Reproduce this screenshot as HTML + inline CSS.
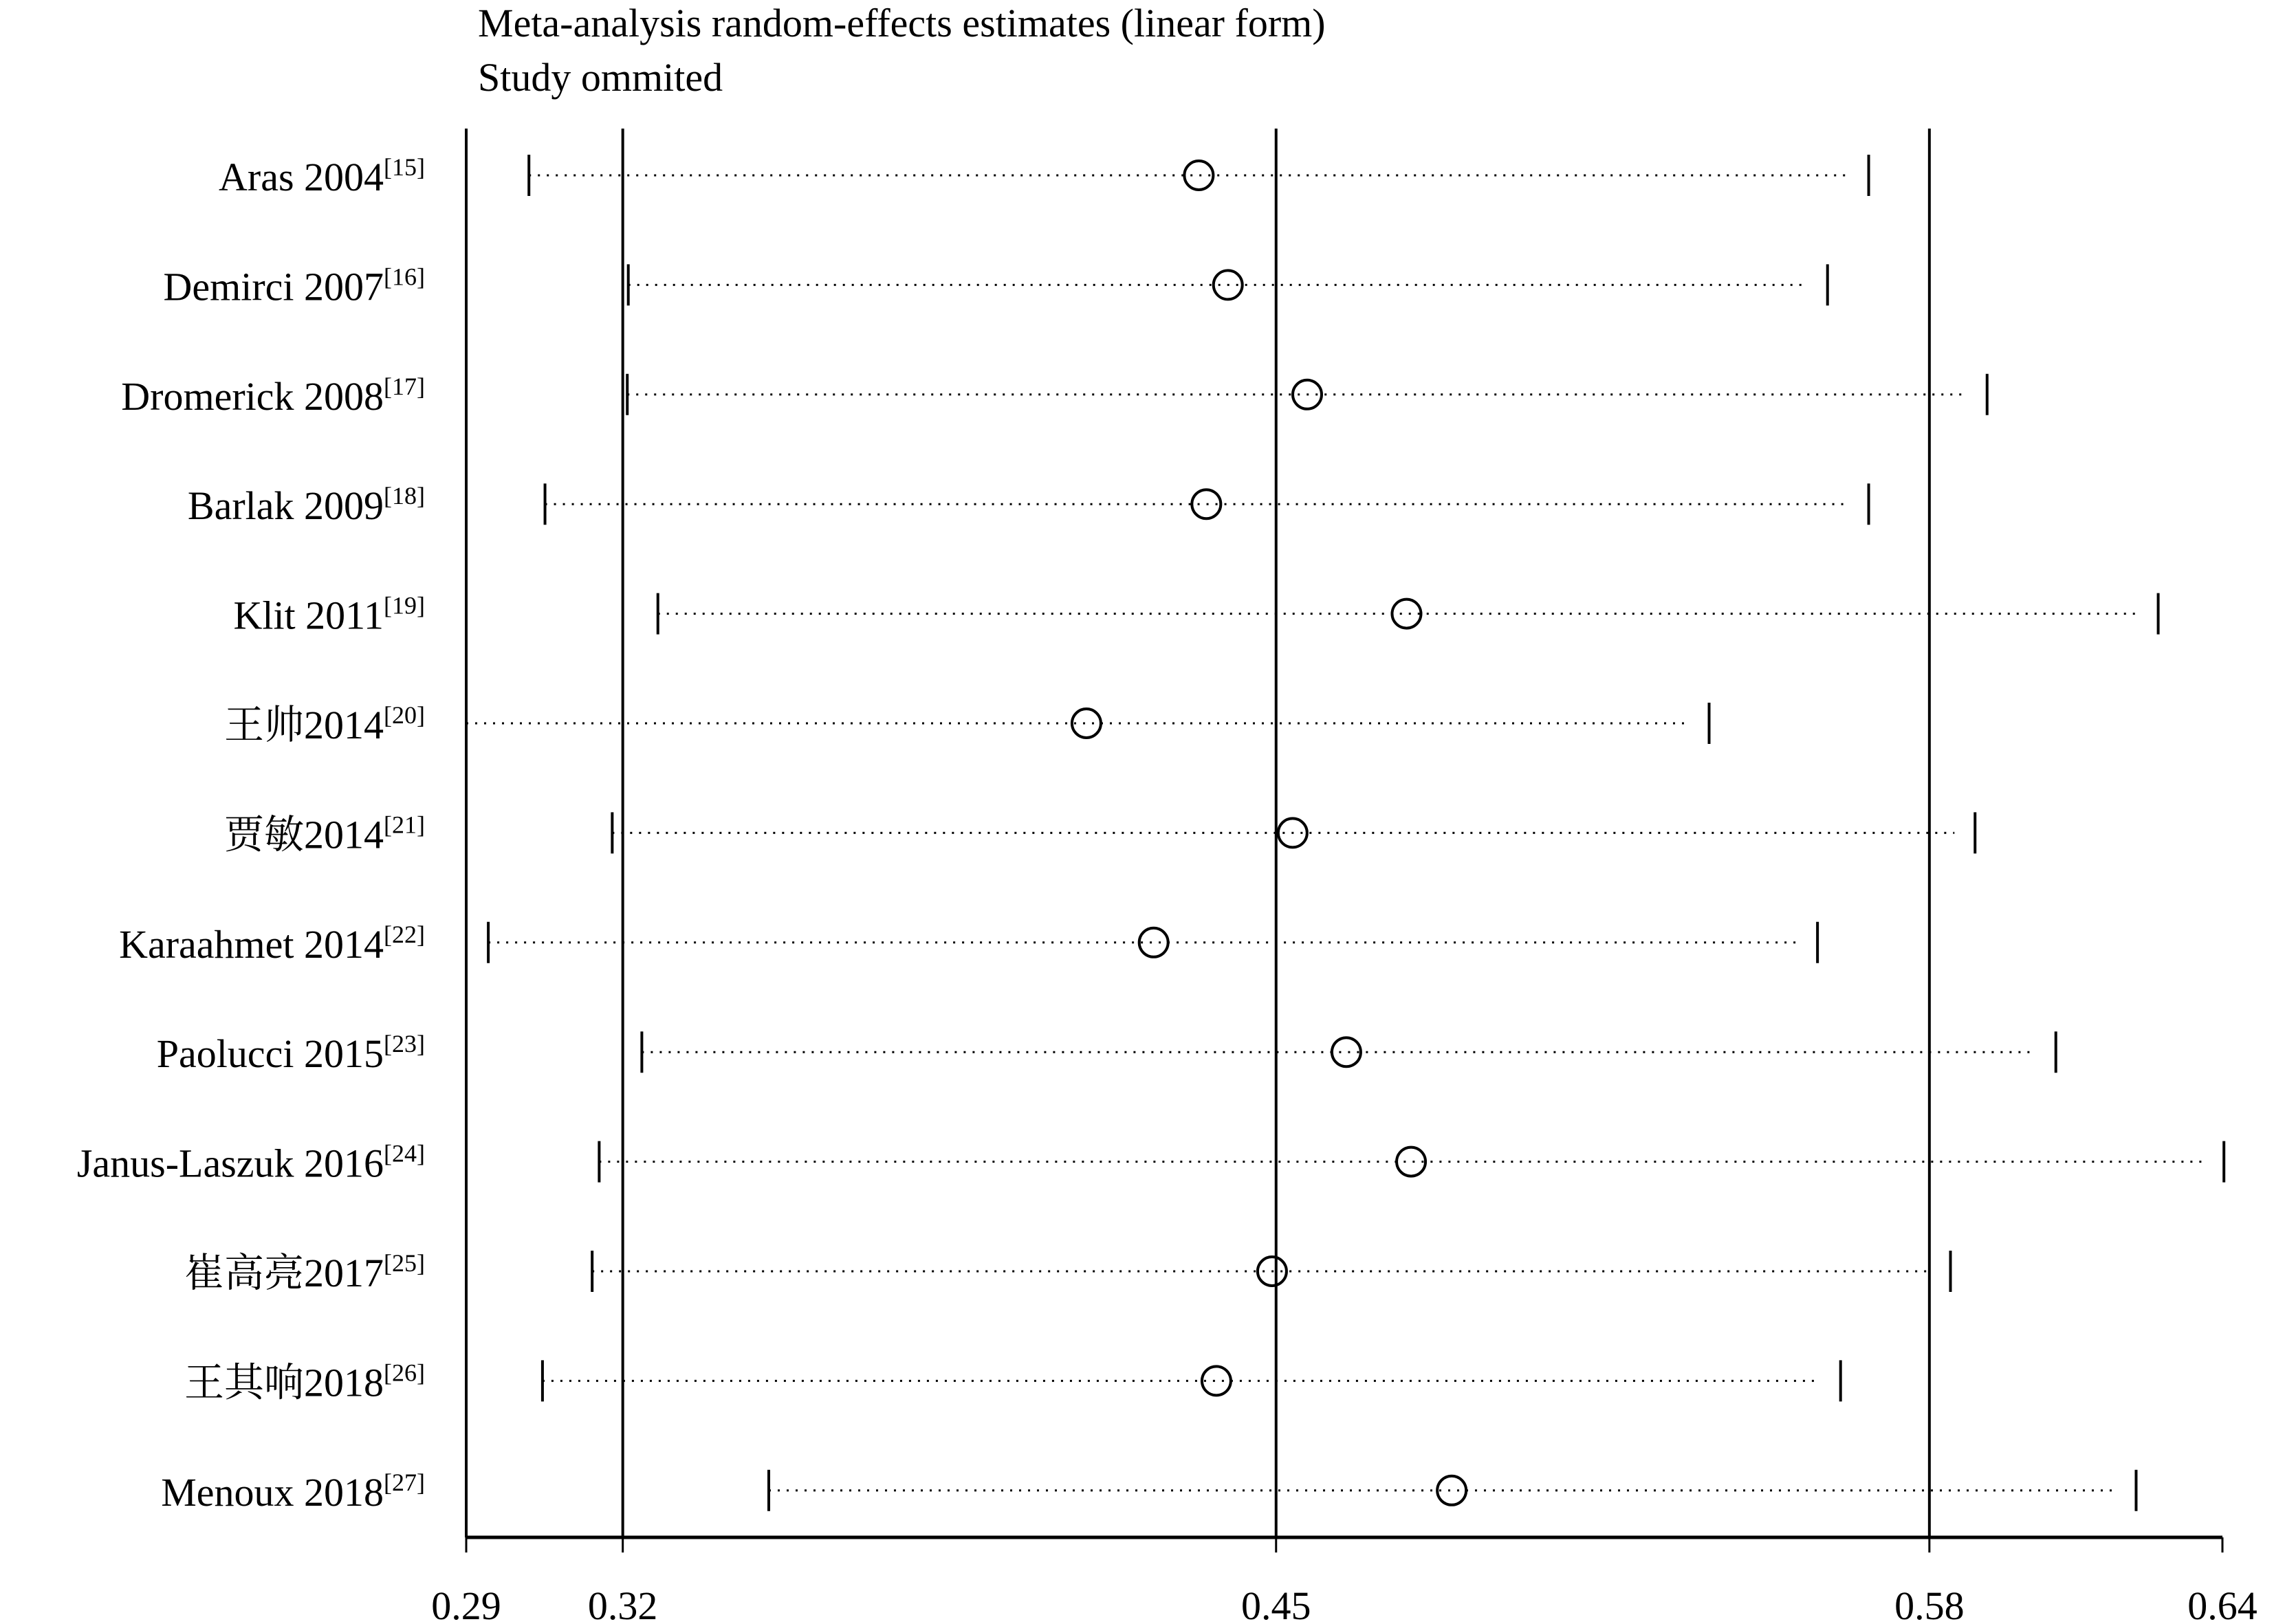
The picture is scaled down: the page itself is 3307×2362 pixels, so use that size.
<!DOCTYPE html>
<html><head><meta charset="utf-8"><style>
body{margin:0;background:#fff}
svg{display:block}
text{font-family:"Liberation Serif","Noto Serif CJK SC","Noto Sans CJK SC",serif;fill:#000}
</style></head><body>
<svg id="c" width="3307" height="2362" viewBox="0 0 3307 2362" xmlns="http://www.w3.org/2000/svg">
<text x="695" y="53" font-size="58">Meta-analysis random-effects estimates (linear form)</text>
<text x="695" y="132" font-size="58">Study ommited</text>
<g id="g"></g>
</svg>
<script>
const studies=["Aras 2004","Demirci 2007","Dromerick 2008","Barlak 2009","Klit 2011","王帅2014","贾敏2014","Karaahmet 2014","Paolucci 2015","Janus-Laszuk 2016","崔高亮2017","王其响2018","Menoux 2018"];
const refs=["15","16","17","18","19","20","21","22","23","24","25","26","27"];
const lows=[0.3025,0.3223,0.3221,0.3057,0.3282,0.29,0.3191,0.2944,0.325,0.3165,0.3151,0.3052,0.3503];
const ests=[0.436,0.4418,0.4576,0.4375,0.4774,0.4136,0.4547,0.427,0.4654,0.4783,0.4506,0.4395,0.4864];
const highs=[0.5695,0.5613,0.5931,0.5695,0.6272,0.5377,0.5907,0.5593,0.6068,0.6403,0.5858,0.5639,0.6228];
const refLines=[0.3212,0.4514,0.5816];
const tickVals=[0.29,0.3212,0.4514,0.5816,0.64];
const tickLabels=["0.29","0.32","0.45","0.58","0.64"];
const xMin=0.29,xMax=0.64,X0=678,X1=3232;
const x=v=>X0+(v-xMin)/(xMax-xMin)*(X1-X0);
const yTop=187,yAxis=2236,row0=255,rowStep=159.4;
const y=i=>row0+i*rowStep;
const g=document.getElementById('g');
const NS="http://www.w3.org/2000/svg";
function mk(t,a){const e=document.createElementNS(NS,t);for(const k in a)e.setAttribute(k,a[k]);g.appendChild(e);return e;}
let e;
e=mk('line',{x1:x(xMin),x2:x(xMin),y1:yTop,y2:yAxis,stroke:'#000','stroke-width':4});


refLines.forEach(v=>{
 e=mk('line',{x1:x(v),x2:x(v),y1:yTop,y2:yAxis,stroke:'#000','stroke-width':4});
 
 
});
e=mk('line',{x1:x(xMin),x2:x(xMax),y1:yAxis,y2:yAxis,stroke:'#000','stroke-width':5});


tickVals.forEach((v,i)=>{
 e=mk('line',{x1:x(v),x2:x(v),y1:yAxis,y2:yAxis+22,stroke:'#000','stroke-width':3});
 
 
 e=mk('text',{x:x(v),y:2355,'font-size':58,'text-anchor':'middle'});
 e.textContent=tickLabels[i];
 
 
});
studies.forEach((s,i)=>{
 const yy=y(i);
 e=mk('text',{x:618,y:yy+22,'font-size':58,'text-anchor':'end'});
 
 
 e.appendChild(document.createTextNode(s));
 const ts=document.createElementNS(NS,'tspan');ts.setAttribute('dy','-22');ts.setAttribute('font-size','36');ts.textContent='['+refs[i]+']';e.appendChild(ts);
 e=mk('line',{x1:x(lows[i]),x2:x(highs[i])-30,y1:yy,y2:yy,stroke:'#000','stroke-width':3,'stroke-dasharray':'3 10'});
 
 
 e=mk('line',{x1:x(lows[i]),x2:x(lows[i]),y1:yy-30,y2:yy+30,stroke:'#000','stroke-width':4});
 
 
 e=mk('line',{x1:x(highs[i]),x2:x(highs[i]),y1:yy-30,y2:yy+30,stroke:'#000','stroke-width':4});
 
 
 e=mk('circle',{cx:x(ests[i]),cy:yy,r:21,fill:'none',stroke:'#000','stroke-width':4});
 
 
});
</script>
</body></html>
